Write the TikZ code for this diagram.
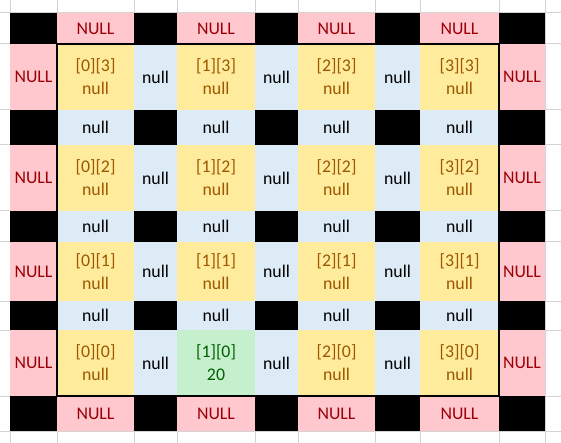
\documentclass[tikz,border=0pt]{standalone}
\usepackage{fontspec}
\setmainfont{Carlito}
\definecolor{gridc}{HTML}{D4D4D4}
\definecolor{pinkf}{HTML}{FFC7CE}
\definecolor{pinkt}{HTML}{9C0006}
\definecolor{yelf}{HTML}{FFEB9C}
\definecolor{yelt}{HTML}{9C5700}
\definecolor{bluef}{HTML}{DDEBF7}
\definecolor{grnf}{HTML}{C6EFCE}
\definecolor{grnt}{HTML}{006100}
\def\xs{{10,57,134,177,255,298,375,420,499,545}}
\def\ys{{13,44,110,145,211,242,301,330,396,431}}
\newcommand{\cellbox}[5]{%
  \pgfmathsetmacro\xl{\xs[#1]}\pgfmathsetmacro\xr{\xs[#1+1]}%
  \pgfmathsetmacro\yt{\ys[#2]}\pgfmathsetmacro\yb{\ys[#2+1]}%
  \pgfmathsetmacro\cw{\xr-\xl}\pgfmathsetmacro\ch{\yb-\yt}%
  \node[cellc, #3, minimum width=\cw pt, minimum height=\ch pt] (#5) at ({(\xl+\xr)/2},{(\yt+\yb)/2}) {#4};%
}
\tikzset{
  cellc/.style={inner sep=0pt, outer sep=0pt, align=center, anchor=center},
  blk/.style={fill=black},
  pk/.style={fill=pinkf, text=pinkt},
  yl/.style={fill=yelf, text=yelt},
  bl/.style={fill=bluef, text=black},
  gr/.style={fill=grnf, text=grnt},
  gridline/.style={draw=gridc, line width=1pt},
  frame/.style={draw=black, line width=2pt}
}
\begin{document}
\begin{tikzpicture}[x=1pt,y=-1pt,font=\fontsize{17.8}{23}\selectfont]
\useasboundingbox (0,0) rectangle (561,443);
\fill[white] (0,0) rectangle (561,443);
\foreach \x in {10,57,134,177,255,298,375,420,499,545} \draw[gridline] (\x,0) -- (\x,443);
\foreach \y in {13,44,110,145,211,242,301,330,396,431} \draw[gridline] (0,\y) -- (561,\y);
% top and bottom rows
\foreach \c in {0,2,4,6,8} {\cellbox{\c}{0}{blk}{}{t\c}\cellbox{\c}{8}{blk}{}{b\c}}
\foreach \c in {1,3,5,7} {\cellbox{\c}{0}{pk}{NULL}{t\c}\cellbox{\c}{8}{pk}{NULL}{b\c}}
% separator rows
\foreach \r in {2,4,6} {
  \foreach \c in {0,2,4,6,8} {\cellbox{\c}{\r}{blk}{}{s\r-\c}}
  \foreach \c in {1,3,5,7} {\cellbox{\c}{\r}{bl}{null}{s\r-\c}}
}
% main rows
\foreach \r/\j in {1/3,3/2,5/1,7/0} {
  \cellbox{0}{\r}{pk}{NULL}{L\j}
  \cellbox{8}{\r}{pk}{NULL}{R\j}
  \foreach \c in {2,4,6} {\cellbox{\c}{\r}{bl}{null}{h\j-\c}}
  \foreach \c/\i in {1/0,3/1,5/2,7/3} {
    \ifnum\i\j=10
      \cellbox{\c}{\r}{gr}{[\i][\j]\\20}{m\i\j}
    \else
      \cellbox{\c}{\r}{yl}{[\i][\j]\\null}{m\i\j}
    \fi
  }
}
\draw[frame] (m03.north west) rectangle (m30.south east);
\end{tikzpicture}
\end{document}
